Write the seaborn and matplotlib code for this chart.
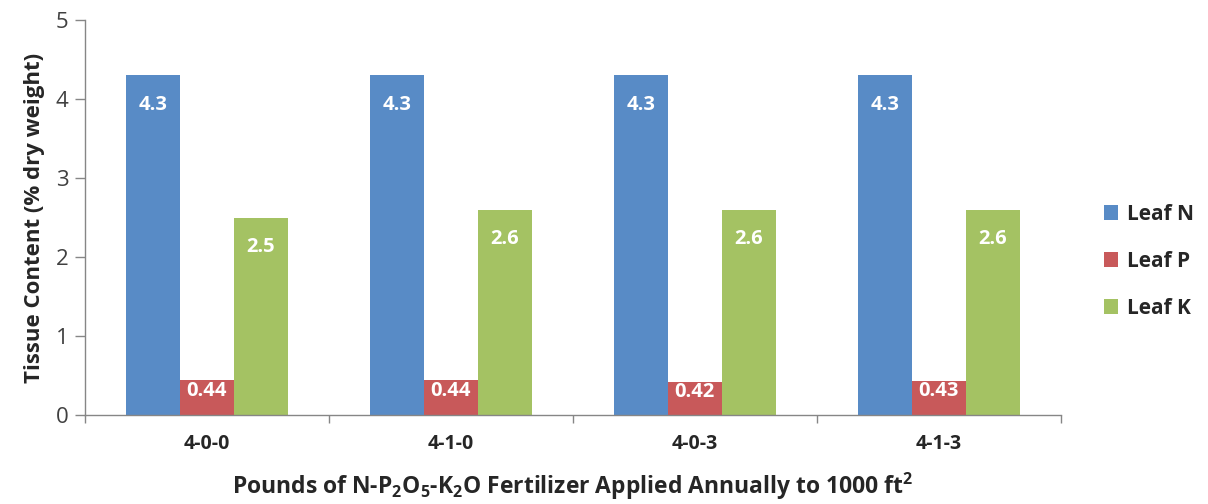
import matplotlib
matplotlib.use('Agg')
import matplotlib.pyplot as plt
import pandas as pd
import seaborn as sns
import numpy as np

treatments = ['4-0-0', '4-1-0', '4-0-3', '4-1-3']
nutrients = ['Leaf N', 'Leaf P', 'Leaf K']
leaf_n = [4.3, 4.3, 4.3, 4.3]
leaf_p = [0.44, 0.44, 0.42, 0.43]
leaf_k = [2.5, 2.6, 2.6, 2.6]
colors = ['#588BC6', '#C8595A', '#A4C263']

rows = []
for series, vals in zip(nutrients, [leaf_n, leaf_p, leaf_k]):
    for t, v in zip(treatments, vals):
        rows.append({'treatment': t, 'nutrient': series, 'value': v})
df = pd.DataFrame(rows)

sns.set_style('white')
plt.rcParams['font.family'] = ['Open Sans', 'DejaVu Sans']
plt.rcParams['mathtext.default'] = 'regular'

fig = plt.figure(figsize=(12.08, 5.04), dpi=100)
ax = fig.add_axes([0.0704, 0.1766, 0.8076, 0.7834])

sns.barplot(data=df, x='treatment', y='value', hue='nutrient', order=treatments,
            hue_order=nutrients, palette=colors, width=0.664, saturation=1,
            linewidth=0, ax=ax)

# white value labels just inside the top of each bar
for cont in ax.containers:
    labels = [f'{v:g}' for v in cont.datavalues]
    for bar, lab, v in zip(cont, labels, cont.datavalues):
        ax.annotate(lab, (bar.get_x() + bar.get_width() / 2, v),
                    xytext=(0, -21 if v > 1 else -7.5), textcoords='offset points',
                    ha='center', va='center', color='white',
                    fontsize=14.5, fontweight='bold')

ax.set_ylim(0, 5)
ax.set_xlim(-0.5, 3.5)
ax.set_yticks(range(6))
ax.set_xticks(np.arange(-0.5, 4, 1), minor=True)
ax.tick_params(axis='y', which='major', direction='out', length=7, width=1,
               color='#868686', labelsize=16, labelcolor='#404040', pad=5, left=True)
ax.tick_params(axis='x', which='major', length=0, labelsize=14, pad=14)
ax.tick_params(axis='x', which='minor', direction='out', length=6, width=1,
               color='#868686', bottom=True)
for lab in ax.get_xticklabels():
    lab.set_fontweight('bold')

sns.despine(ax=ax)
for s in ['left', 'bottom']:
    ax.spines[s].set_color('#868686')
    ax.spines[s].set_linewidth(1)

ax.set_ylabel('Tissue Content (% dry weight)', fontsize=16, fontweight='bold', labelpad=8)
ax.set_xlabel('Pounds of N-P$_2$O$_5$-K$_2$O Fertilizer Applied Annually to 1000 ft$^2$',
              fontsize=16.5, fontweight='bold', labelpad=12)

ax.legend_.remove()
handles, labs = ax.get_legend_handles_labels()
fig.legend(handles, labs, loc='center left', bbox_to_anchor=(0.898, 0.482),
           frameon=False, handlelength=0.7, handleheight=0.7, handletextpad=0.45,
           labelspacing=1.25, prop={'weight': 'bold', 'size': 15})

fig.savefig('out.png', dpi=100)
